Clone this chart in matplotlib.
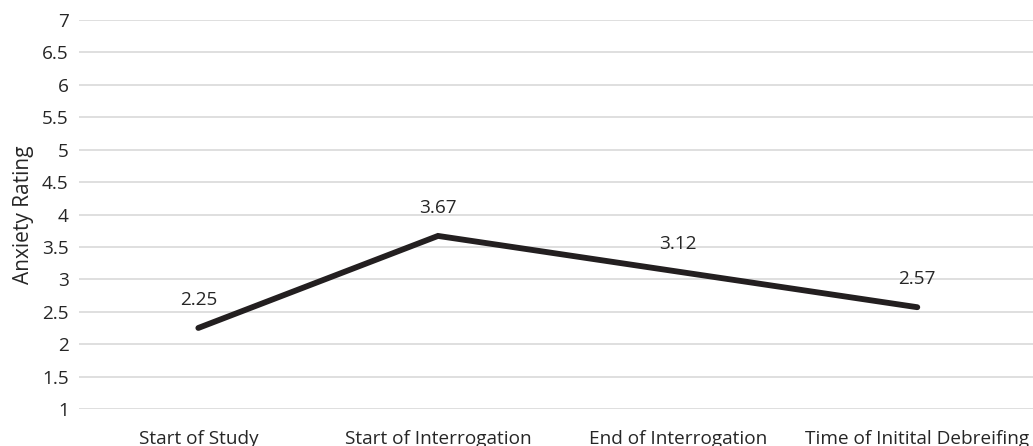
import matplotlib

matplotlib.use("Agg")
import matplotlib.pyplot as plt
import numpy as np

# Chart data
categories = ["Start of Study", "Start of Interrogation", "End of Interrogation", "Time of Initital Debreifing"]
anxiety = [2.25, 3.67, 3.12, 2.57]
y_ticks = [1, 1.5, 2, 2.5, 3, 3.5, 4, 4.5, 5, 5.5, 6, 6.5, 7]
y_tick_labels = ["1", "1.5", "2", "2.5", "3", "3.5", "4", "4.5", "5", "5.5", "6", "6.5", "7"]

plt.rcParams["font.family"] = ["Open Sans", "DejaVu Sans"]
TEXT = "#262626"
FS = 13.7

fig = plt.figure(figsize=(10.33, 4.46), dpi=100)
ax = fig.add_axes([0.076, 0.083, 0.928, 0.872])

x = np.arange(len(categories))
ax.plot(x, anxiety, color="#231f20", linewidth=4.2, solid_capstyle="round", solid_joinstyle="miter", zorder=3)

for xi, v in zip(x, anxiety):
    ax.annotate(f"{v:.2f}", (xi, v), xytext=(0, 20), textcoords="offset points",
                ha="center", va="center", fontsize=FS, color=TEXT, zorder=4)

ax.set_xlim(-0.5, len(categories) - 0.5)
ax.set_ylim(1, 7)
ax.set_yticks(y_ticks)
ax.set_yticklabels(y_tick_labels)
ax.set_xticks(x)
ax.set_xticklabels(categories)
ax.tick_params(axis="both", length=0, labelsize=FS, colors=TEXT)
ax.tick_params(axis="y", pad=7)
ax.tick_params(axis="x", pad=15)
ax.set_ylabel("Anxiety Rating", fontsize=15, color=TEXT, labelpad=6)

ax.grid(axis="y", color="#d9d9d9", linewidth=1.2)
ax.set_axisbelow(True)
for spine in ax.spines.values():
    spine.set_visible(False)

fig.savefig("out.png", dpi=100)
